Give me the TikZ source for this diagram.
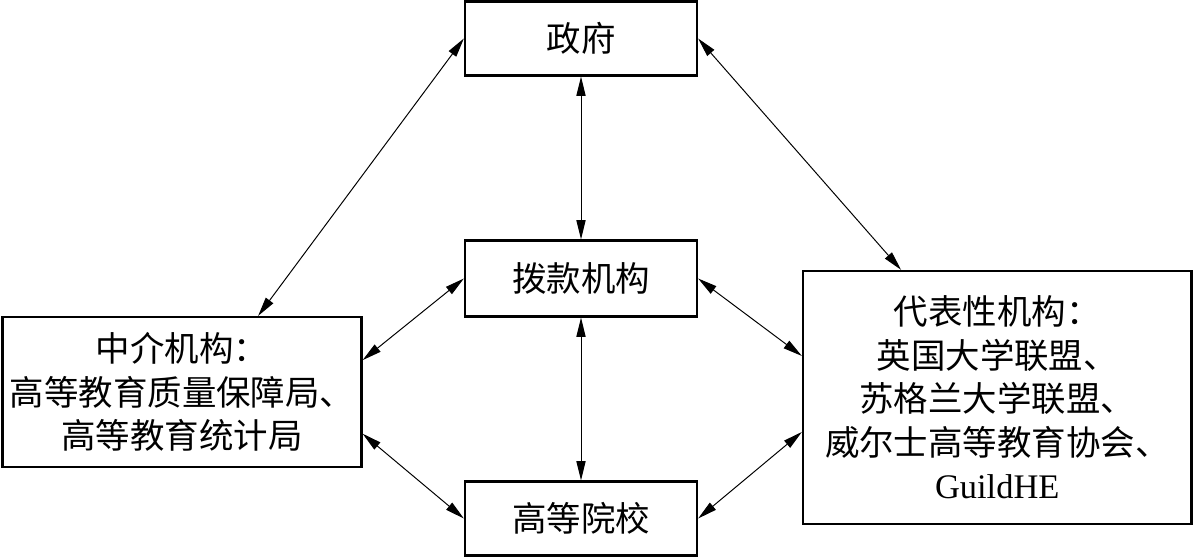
\documentclass[tikz,border=0pt]{standalone}
\usepackage{fontspec}
\setmainfont{Liberation Serif}
\newfontfamily\cjk{Noto Sans CJK SC}
\usetikzlibrary{arrows.meta}
\tikzset{
  orgbox/.style={draw,line width=1.6pt,inner sep=0pt,align=center,
    font=\cjk\fontsize{24.5}{31}\selectfont},
  twoway/.style={{Triangle[length=4.8mm,width=2.3mm]}-{Triangle[length=4.8mm,width=2.3mm]},
    line width=0.7pt}
}

\begin{document}
\begin{tikzpicture}[x=0.25mm,y=-0.25mm]
  \useasboundingbox (0,0) rectangle (1194,558);
  \node[orgbox,minimum width=232*0.25mm,minimum height=74*0.25mm] (zf) at (581,38.5) {政府};
  \node[orgbox,minimum width=232*0.25mm,minimum height=76*0.25mm] (bk) at (581,278.5) {拨款机构};
  \node[orgbox,minimum width=232*0.25mm,minimum height=74*0.25mm] (gx) at (581,518.5) {高等院校};
  \node[orgbox,minimum width=359*0.25mm,minimum height=150*0.25mm] (zj) at (182,392)
    {中介机构：\\高等教育质量保障局、\\高等教育统计局};
  \node[orgbox,minimum width=388.5*0.25mm,minimum height=253*0.25mm] (db) at (997.25,397.5)
    {代表性机构：\\英国大学联盟、\\苏格兰大学联盟、\\威尔士高等教育协会、\\{\rmfamily GuildHE}};
  \draw[twoway] (zf.south) -- (bk.north);
  \draw[twoway] (bk.south) -- (gx.north);
  \draw[twoway] (zf.west) -- (zj.45);
  \draw[twoway] (zf.east) -- (db.127);
  \draw[twoway] (bk.west) -- (zj.10);
  \draw[twoway] (bk.east) -- (db.168);
  \draw[twoway] (zj.-13) -- (gx.west);
  \draw[twoway] (db.190) -- (gx.east);
\end{tikzpicture}
\end{document}
